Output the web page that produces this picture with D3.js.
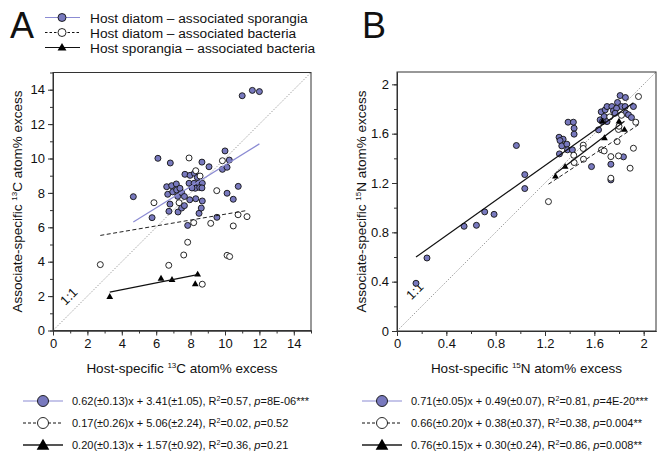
<!DOCTYPE html>
<html><head><meta charset="utf-8">
<script src="https://cdn.jsdelivr.net/npm/d3@7"></script>
<style>body{margin:0;background:#fff} text{font-family:"Liberation Sans",Arial,sans-serif;fill:#111}</style>
</head><body><svg id="c" width="661" height="460"></svg>
<script>
// ---------- DATA ----------
const seriesNames = ["Host diatom \u2013 associated sporangia","Host diatom \u2013 associated bacteria","Host sporangia \u2013 associated bacteria"];

// Panel A (13C)
const aSporX = [11.0,11.59,12.0,10.0,10.25,9.85,10.12,6.1,6.82,8.66,9.07,4.67,5.76,10.77,10.12,10.48,9.53,7.83,8.49,8.62,8.68,8.30,7.95,6.74,6.8,7.27,7.48,7.64,6.61,6.9,7.17,6.67,6.96,7.19,7.25,7.48,7.64,7.38,7.67,7.97,8.22,7.91,8.2,8.47,8.68,8.27,8.53,8.66,8.08,8.39];
const aSporY = [13.65,13.96,13.89,10.44,9.91,9.37,9.49,10.01,9.74,9.79,9.52,7.78,6.56,8.38,7.98,7.63,6.58,6.11,6.81,7.12,7.53,7.66,7.6,6.93,7.35,6.89,7.12,7.26,8.36,8.42,8.52,7.92,8.06,8.17,7.8,8.02,7.79,8.27,9.08,9.02,9.14,8.56,8.56,8.56,8.56,8.27,8.31,8.29,8.29,8.9];
const aBactX = [7.91,9.85,8.30,8.55,9.52,5.87,7.33,10.76,11.28,8.18,9.17,10.48,7.83,7.6,10.12,10.27,6.73,2.75,8.68];
const aBactY = [10.03,9.87,9.29,8.98,8.13,7.43,7.43,6.73,6.62,6.27,6.23,6.08,5.13,4.39,4.37,4.30,3.79,3.83,2.69];
const aSpBaX = [3.30,6.28,6.92,8.41,8.27];
const aSpBaY = [1.95,3.01,2.94,3.25,2.69];
const aSlopes = [0.62,0.17,0.20];
const aIntercepts = [3.41,5.06,1.57];
const aFitText = ["0.62(\u00b10.13)x + 3.41(\u00b11.05), R|=0.57, p=8E-06***",
                  "0.17(\u00b10.26)x + 5.06(\u00b12.24), R|=0.02, p=0.52",
                  "0.20(\u00b10.13)x + 1.57(\u00b10.92), R|=0.36, p=0.21"];

// Panel B (15N)
const bSporX = [0.154,0.243,0.544,0.644,0.711,0.787,1.036,1.036,0.968,1.314,1.347,1.322,1.336,1.377,1.317,1.382,1.422,1.387,1.43,1.436,1.436,1.577,1.734,1.734,1.836,1.634,1.647,1.656,1.688,1.703,1.742,1.755,1.788,1.809,1.852,1.82,1.85,1.78,1.769,1.855,1.877,1.901,1.917,1.68,1.703,1.666];
const bSporY = [0.387,0.592,0.849,0.857,0.966,0.946,1.155,1.268,1.504,1.571,1.555,1.544,1.501,1.515,1.436,1.469,1.469,1.693,1.693,1.644,1.596,1.333,1.352,1.225,1.412,1.631,1.712,1.777,1.793,1.82,1.82,1.785,1.853,1.909,1.893,1.82,1.82,1.806,1.766,1.766,1.753,1.731,1.82,1.739,1.698,1.698];
const bBactX = [1.228,1.436,1.433,1.512,1.51,1.51,1.658,1.68,1.734,1.734,1.796,1.785,1.89,1.917,1.936,1.958,1.725,1.796,1.82,1.80];
const bBactY = [1.049,1.366,1.425,1.393,1.507,1.48,1.469,1.46,1.414,1.239,1.42,1.536,1.32,1.482,1.693,1.901,1.736,1.634,1.749,1.66];
const bSpBaX = [1.285,1.363,1.682,1.666,1.80,1.844];
const bSpBaY = [1.252,1.331,1.563,1.698,1.698,1.631];
const bSlopes = [0.71,0.66,0.76];
const bIntercepts = [0.49,0.38,0.30];
const bFitText = ["0.71(\u00b10.05)x + 0.49(\u00b10.07), R|=0.81, p=4E-20***",
                  "0.66(\u00b10.20)x + 0.38(\u00b10.37), R|=0.38, p=0.004**",
                  "0.76(\u00b10.15)x + 0.30(\u00b10.24), R|=0.86, p=0.008**"];

const aTicks = [0,2,4,6,8,10,12,14];
const bTicks = [0,0.4,0.8,1.2,1.6,2];

// ---------- STYLE ----------
const FILL = "#7879be", BLUE = "#8b8bd3";
const svg = d3.select("#c");

function sym(g, type, x, y, size, r){
  if(type===0) return g.append("circle").attr("cx",x).attr("cy",y).attr("r",r).attr("fill",FILL).attr("stroke","#111").attr("stroke-width",0.9);
  if(type===1) return g.append("circle").attr("cx",x).attr("cy",y).attr("r",r).attr("fill","#fff").attr("stroke","#111").attr("stroke-width",0.9);
  return g.append("path").attr("d",d3.symbol(d3.symbolTriangle,size)()).attr("transform",`translate(${x},${y})`).attr("fill","#000");
}

function panel(cfg){
  const g = svg.append("g");
  const x = d3.scaleLinear().domain([0,cfg.max]).range([cfg.x0,cfg.x1]);
  const y = d3.scaleLinear().domain([0,cfg.max]).range([cfg.y0,cfg.y1]);
  const fmt = d => String(+d.toFixed(1));
  const minor = d3.range(0,cfg.max+1e-9,cfg.minor);
  // minor ticks
  g.append("g").attr("transform",`translate(0,${cfg.y0})`).call(d3.axisBottom(x).tickValues(minor).tickSize(3).tickFormat("").tickSizeOuter(0));
  g.append("g").attr("transform",`translate(${cfg.x0},0)`).call(d3.axisLeft(y).tickValues(minor).tickSize(3).tickFormat("").tickSizeOuter(0));
  const ax = g.append("g").attr("transform",`translate(0,${cfg.y0})`).call(d3.axisBottom(x).tickValues(cfg.ticks).tickSize(5).tickPadding(3).tickFormat(fmt).tickSizeOuter(0));
  const ay = g.append("g").attr("transform",`translate(${cfg.x0},0)`).call(d3.axisLeft(y).tickValues(cfg.ticks).tickSize(5).tickPadding(3).tickFormat(fmt).tickSizeOuter(0));
  g.selectAll(".tick text").attr("font-size",13).attr("font-family","'Liberation Sans',Arial,sans-serif").attr("fill","#111");
  g.selectAll(".tick line").attr("stroke","#333");
  g.selectAll(".domain").attr("stroke","#333");
  // 1:1 line
  g.append("line").attr("x1",x(0)).attr("y1",y(0)).attr("x2",x(cfg.max)).attr("y2",y(cfg.max))
   .attr("stroke","#888").attr("stroke-width",0.8).attr("stroke-dasharray","1.5,1.5");
  g.append("text").attr("transform",`translate(${x(cfg.lab[0])},${y(cfg.lab[1])}) rotate(-45)`)
   .attr("text-anchor","middle").attr("font-size",13).text("1:1");
  // points
  const pts = g.append("g");
  cfg.series.forEach((s,i)=>{
    s.x.forEach((v,j)=>sym(pts,i,x(v),y(s.y[j]),20,3));
  });
  // regression lines
  cfg.series.forEach((s,i)=>{
    const lo = d3.min(s.x), hi = d3.max(s.x);
    const f = v => cfg.slopes[i]*v + cfg.ints[i];
    const ln = g.append("line").attr("x1",x(lo)).attr("y1",y(f(lo))).attr("x2",x(hi)).attr("y2",y(f(hi)))
      .attr("stroke",cfg.lineColors[i]).attr("stroke-width",i===1?1:1.2);
    if(i===1) ln.attr("stroke-dasharray","4,2.5");
  });
  // box
  g.append("rect").attr("x",cfg.x0).attr("y",cfg.y1).attr("width",cfg.x1-cfg.x0).attr("height",cfg.y0-cfg.y1)
   .attr("fill","none").attr("stroke","#333").attr("stroke-width",1);
  // axis titles
  const xt = g.append("text").attr("x",(cfg.x0+cfg.x1)/2).attr("y",373).attr("text-anchor","middle").attr("font-size",13.5);
  xt.append("tspan").text("Host-specific ");
  xt.append("tspan").attr("font-size",8).attr("dy",-5).text(cfg.iso);
  xt.append("tspan").attr("dy",5).text(cfg.el+" atom% excess");
  const yt = g.append("text").attr("transform",`translate(${cfg.x0-31},${(cfg.y0+cfg.y1)/2}) rotate(-90)`).attr("text-anchor","middle").attr("font-size",13.5);
  yt.append("tspan").text("Associate-specific ");
  yt.append("tspan").attr("font-size",8).attr("dy",-5).text(cfg.iso);
  yt.append("tspan").attr("dy",5).text(cfg.el+" atom% excess");
  // panel letter
  svg.append("text").attr("x",cfg.letterX).attr("y",38).attr("font-size",36).text(cfg.letter);
  // bottom legend
  cfg.fits.forEach((t,i)=>{
    const yy = 401 + i*22, lx = cfg.legX;
    const l = svg.append("line").attr("x1",lx).attr("x2",lx+40).attr("y1",yy).attr("y2",yy)
      .attr("stroke",i===0?BLUE:(i===1?"#111":"#555")).attr("stroke-width",i===2?2:1);
    if(i===1) l.attr("stroke-dasharray","3,2");
    sym(svg,i,lx+20,yy+(i===2?1:0),70,5.5);
    const tx = svg.append("text").attr("x",lx+49).attr("y",yy+4).attr("font-size",11);
    const parts = t.split("|");
    const p2 = parts[1].split("p=");
    tx.append("tspan").text(parts[0]);
    tx.append("tspan").attr("font-size",7).attr("dy",-4).text("2");
    tx.append("tspan").attr("dy",4).text(p2[0]);
    tx.append("tspan").attr("font-style","italic").text("p");
    tx.append("tspan").text("="+p2[1]);
  });
}

panel({x0:53,x1:311,y0:330.5,y1:72.5,max:15,ticks:aTicks,minor:1,lab:[1.1,1.8],iso:"13",el:"C",
  letter:"A",letterX:10,legX:23,fits:aFitText,slopes:aSlopes,ints:aIntercepts,
  lineColors:[BLUE,"#222","#111"],
  series:[{x:aSporX,y:aSporY},{x:aBactX,y:aBactY},{x:aSpBaX,y:aSpBaY}]});
panel({x0:397,x1:656,y0:331,y1:72,max:2.1,ticks:bTicks,minor:0.2,lab:[0.17,0.3],iso:"15",el:"N",
  letter:"B",letterX:362,legX:362,fits:bFitText,slopes:bSlopes,ints:bIntercepts,
  lineColors:["#111","#222","#111"],
  series:[{x:bSporX,y:bSporY},{x:bBactX,y:bBactY},{x:bSpBaX,y:bSpBaY}]});

// top legend (panel A)
seriesNames.forEach((n,i)=>{
  const yy = [17.5,32.5,47.5][i];
  const l = svg.append("line").attr("x1",45).attr("x2",80).attr("y1",yy).attr("y2",yy)
    .attr("stroke",i===0?BLUE:"#111").attr("stroke-width",1);
  if(i===1) l.attr("stroke-dasharray","2.5,2");
  sym(svg,i,62,yy+(i===2?0.5:0),34,4);
  svg.append("text").attr("x",90).attr("y",yy+5).attr("font-size",13.7).text(n);
});
</script></body></html>
